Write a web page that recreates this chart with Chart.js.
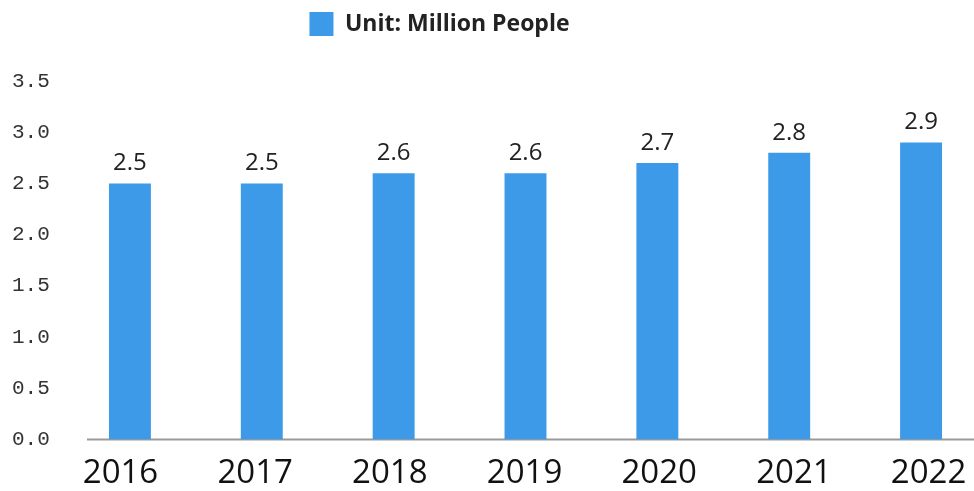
<!DOCTYPE html>
<html>
<head>
<meta charset="utf-8">
<script src="https://cdn.jsdelivr.net/npm/chart.js@4.4.1/dist/chart.umd.min.js"></script>
<style>
html,body{margin:0;padding:0;background:#fff;overflow:hidden;}
#wrap{position:relative;width:1000px;height:507px;}
</style>
</head>
<body>
<div id="wrap"><canvas id="c"></canvas></div>
<script>
const categories = ['2016','2017','2018','2019','2020','2021','2022'];
const values = [2.5, 2.5, 2.6, 2.6, 2.7, 2.8, 2.9];
const seriesLabel = 'Unit: Million People';
const yTicks = [0, 0.5, 1.0, 1.5, 2.0, 2.5, 3.0, 3.5];

const valueLabels = {
  id: 'valueLabels',
  afterDatasetsDraw(chart) {
    const ctx = chart.ctx;
    const meta = chart.getDatasetMeta(0);
    ctx.save();
    ctx.font = '24px "Open Sans", sans-serif';
    ctx.fillStyle = '#222';
    ctx.textAlign = 'center';
    ctx.textBaseline = 'bottom';
    meta.data.forEach((bar, i) => {
      ctx.fillText(values[i].toFixed(1), bar.x, bar.y - 8);
    });
    ctx.restore();
  }
};
const baseLine = {
  id: 'baseLine',
  beforeDatasetsDraw(chart) {
    const ctx = chart.ctx;
    const y = chart.scales.y.getPixelForValue(0);
    const a = chart.chartArea;
    ctx.save();
    ctx.strokeStyle = '#9a9a9a';
    ctx.lineWidth = 2;
    ctx.beginPath();
    ctx.moveTo(a.left + 23, y);
    ctx.lineTo(a.right, y);
    ctx.stroke();
    ctx.restore();
  }
};
const legendTweak = {
  id: 'legendTweak',
  beforeLayout(chart) {
    const lg = chart.legend;
    if (lg && !lg._patched) {
      const orig = lg.fit;
      lg.fit = function () { orig.call(this); this.height += 35; };
      lg._patched = true;
    }
  },
  afterLayout(chart) {
    const lg = chart.legend;
    if (lg) { lg.left -= 60; lg.right -= 60; }
  }
};

new Chart(document.getElementById('c'), {
  type: 'bar',
  data: {
    labels: categories,
    datasets: [{
      label: seriesLabel,
      data: values,
      backgroundColor: '#3d9ae9',
      borderWidth: 0,
      barPercentage: 0.318,
      categoryPercentage: 1.0
    }]
  },
  options: {
    responsive: true,
    maintainAspectRatio: false,
    animation: false,
    layout: { padding: { left: 12, top: 0, right: 13, bottom: 0 } },
    plugins: {
      tooltip: { enabled: false },
      legend: {
        display: true,
        labels: {
          boxWidth: 24, boxHeight: 24,
          color: '#222',
          font: { family: '"Open Sans", sans-serif', size: 23, weight: 'bold' },
          padding: 12
        }
      }
    },
    scales: {
      x: {
        display: false
      },
      xLabels: {
        type: 'linear',
        position: 'bottom',
        offset: false,
        min: -0.4195, max: 6.434,
        afterBuildTicks(scale) { scale.ticks = categories.map((c, i) => ({ value: i })); },
        grid: { display: false, drawTicks: false, offset: false },
        border: { display: false },
        ticks: {
          color: '#111',
          font: { family: '"Open Sans", sans-serif', size: 33 },
          padding: 14, maxRotation: 0, autoSkip: false,
          callback: v => categories[v]
        }
      },
      y: {
        min: 0, max: 3.5,
        afterFit(scale) { scale.width = 52; },
        afterBuildTicks(scale) { scale.ticks = yTicks.map(v => ({ value: v })); },
        grid: { display: false, drawTicks: false },
        border: { display: false },
        ticks: {
          crossAlign: 'far',
          color: '#333',
          font: { family: '"Liberation Mono", monospace', size: 21 },
          padding: 0,
          callback: v => Number(v).toFixed(1)
        }
      }
    }
  },
  plugins: [valueLabels, baseLine, legendTweak]
});
</script>
</body>
</html>
